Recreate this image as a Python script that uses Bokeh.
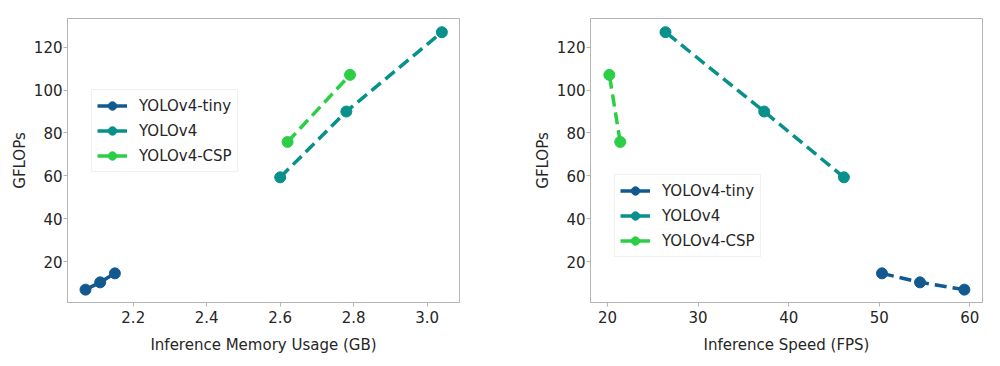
from bokeh.plotting import figure
from bokeh.layouts import row
from bokeh.models import Legend, LegendItem, Range1d, FixedTicker, NumeralTickFormatter
from bokeh.embed import file_html
from bokeh.resources import INLINE

series = ["YOLOv4-tiny", "YOLOv4", "YOLOv4-CSP"]
colors = ["#12598f", "#08908a", "#2bce45"]

gflops_tiny = [6.9, 10.3, 14.5]
gflops_v4 = [59.3, 90.0, 127.0]
gflops_csp = [75.8, 107.1]

mem_tiny = [2.07, 2.11, 2.15]
mem_v4 = [2.60, 2.78, 3.04]
mem_csp = [2.62, 2.79]

fps_tiny = [59.4, 54.5, 50.3]
fps_v4 = [46.1, 37.3, 26.4]
fps_csp = [21.4, 20.2]

mem_ticks = [2.2, 2.4, 2.6, 2.8, 3.0]
fps_ticks = [20, 30, 40, 50, 60]
gflops_ticks = [20, 40, 60, 80, 100, 120]

FONT = "DejaVu Sans"
TXT = "#262626"
FRAME = "#b5b5b5"
NAN = float("nan")


def make_fig(xr, xticks, xlabel, bl, br, width):
    p = figure(width=width, height=358, output_backend="svg", toolbar_location=None,
               x_range=Range1d(*xr), y_range=Range1d(0.9, 133.4),
               min_border_left=bl, min_border_right=br, min_border_top=18, min_border_bottom=56)
    p.grid.visible = False
    p.outline_line_color = FRAME
    p.outline_line_width = 1
    p.xaxis.ticker = FixedTicker(ticks=xticks)
    p.yaxis.ticker = FixedTicker(ticks=gflops_ticks)
    p.xaxis.axis_label = xlabel
    p.yaxis.axis_label = "GFLOPs"
    for ax in (p.xaxis, p.yaxis):
        ax.axis_line_color = FRAME
        ax.major_tick_line_color = FRAME
        ax.major_tick_out = 4
        ax.major_tick_in = 0
        ax.minor_tick_line_color = None
        ax.major_label_text_font = FONT
        ax.major_label_text_font_size = "15px"
        ax.major_label_text_color = TXT
        ax.axis_label_text_font = FONT
        ax.axis_label_text_font_size = "15px"
        ax.axis_label_text_font_style = "normal"
        ax.axis_label_text_color = TXT
    p.xaxis.major_label_standoff = 4
    p.yaxis.major_label_standoff = 1
    p.xaxis.axis_label_standoff = 10
    p.yaxis.axis_label_standoff = 2
    return p


def add_series(p, xs, ys, color, dash):
    p.line(xs, ys, line_color=color, line_width=3.5, line_dash=dash)
    p.scatter(xs, ys, size=11, fill_color=color, line_color=color)


def add_legend(p, loc):
    items = []
    for name, c in zip(series, colors):
        r1 = p.line(x=[NAN], y=[NAN], line_color=c, line_width=3.5)
        r2 = p.scatter(x=[NAN], y=[NAN], size=9, fill_color=c, line_color=c)
        items.append(LegendItem(label=name, renderers=[r1, r2]))
    lg = Legend(items=items, location=loc, label_text_font=FONT, label_text_font_size="15px",
                label_text_color=TXT, glyph_width=30, glyph_height=21, label_height=21,
                label_standoff=12, spacing=4, padding=5, margin=0,
                border_line_color="#e2e2e2", border_line_width=1,
                background_fill_color="white", background_fill_alpha=0.9)
    p.add_layout(lg, "center")


p1 = make_fig((2.021, 3.088), mem_ticks, "Inference Memory Usage (GB)", 67, 40, 499)
p1.xaxis.formatter = NumeralTickFormatter(format="0.0")
add_series(p1, mem_tiny, gflops_tiny, colors[0], "solid")
add_series(p1, mem_v4, gflops_v4, colors[1], "12 6")
add_series(p1, mem_csp, gflops_csp, colors[2], "12 6")
add_legend(p1, (24, 130))

p2 = make_fig((18.12, 61.4), fps_ticks, "Inference Speed (FPS)", 91, 10, 493)
add_series(p2, fps_tiny, gflops_tiny, colors[0], "12 6")
add_series(p2, fps_v4, gflops_v4, colors[1], "12 6")
add_series(p2, fps_csp, gflops_csp, colors[2], "12 6")
add_legend(p2, (24, 45))

layout = row(p1, p2)
open("out.html", "w").write(file_html(layout, INLINE))
